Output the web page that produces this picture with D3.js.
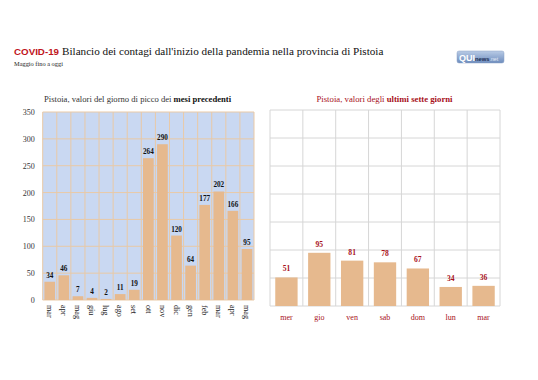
<!DOCTYPE html>
<html><head><meta charset="utf-8">
<script src="https://cdn.jsdelivr.net/npm/d3@7"></script>
<style>
body{margin:0;background:#fff;}
svg{display:block;}
</style></head>
<body>
<svg id="c" width="538" height="380"></svg>
<script>
const monthLabels = ["mar","apr","mag","giu","lug","ago","set","ott","nov","dic","gen","feb","mar","apr","mag"];
const monthValues = [34,46,7,4,2,11,19,264,290,120,64,177,202,166,95];
const dayLabels = ["mer","gio","ven","sab","dom","lun","mar"];
const dayValues = [51,95,81,78,67,34,36];
const yTicks = [0,50,100,150,200,250,300,350];

const svg = d3.select("#c");
const serif = "'Liberation Serif','DejaVu Serif',serif";
const barColor = "#e6b98e";
const red = "#a8101a";

// fit a text element's font size so its width matches a target width
function fitWidth(sel, target){
  const fs = +sel.attr("font-size");
  const w = sel.node().getComputedTextLength();
  if (w > 0) sel.attr("font-size", fs*target/w);
}

// Title
const cv = svg.append("text").attr("x",14).attr("y",55).text("COVID-19")
  .attr("font-family","'Liberation Sans',sans-serif")
  .attr("font-weight","bold").attr("font-size",10).attr("fill","#c0141c");
fitWidth(cv, 45);
const tt = svg.append("text").attr("x",62).attr("y",55)
  .text("Bilancio dei contagi dall'inizio della pandemia nella provincia di Pistoia")
  .attr("font-family",serif).attr("font-size",12).attr("fill","#111");
fitWidth(tt, 322);
const st = svg.append("text").attr("x",14).attr("y",66).text("Maggio fino a oggi")
  .attr("font-family",serif).attr("font-size",6.6).attr("fill","#222");
fitWidth(st, 49);

// Logo
const defs = svg.append("defs");
const g = defs.append("linearGradient").attr("id","lg").attr("x1",0).attr("y1",0).attr("x2",0).attr("y2",1);
g.append("stop").attr("offset","0%").attr("stop-color","#b9cbe6");
g.append("stop").attr("offset","100%").attr("stop-color","#6d8cbd");
svg.append("rect").attr("x",457).attr("y",51).attr("width",47).attr("height",12).attr("rx",2).attr("fill","url(#lg)").attr("stroke","#8aa0c4").attr("stroke-width",0.5);
const lt = svg.append("text").attr("x",459).attr("y",60.5).attr("font-family","'Liberation Sans',sans-serif");
lt.append("tspan").text("QUI").attr("font-weight","bold").attr("font-size",9).attr("fill","#fff");
lt.append("tspan").text("news").attr("font-weight","bold").attr("font-size",5.8).attr("fill","#1d2e55");
lt.append("tspan").text(".net").attr("font-size",5.2).attr("fill","#e8eef8");

// ---------- Left chart ----------
const L = {x0:42.7, x1:254, y0:300, y1:112};
const xL = d3.scaleBand().domain(d3.range(monthLabels.length)).range([L.x0,L.x1]).paddingInner(0.24).paddingOuter(0.12);
const yL = d3.scaleLinear().domain([0,350]).range([L.y0,L.y1]);
const gl = svg.append("g");
gl.append("rect").attr("x",L.x0).attr("y",L.y1).attr("width",L.x1-L.x0).attr("height",L.y0-L.y1).attr("fill","#c9d8f2");
const step = (L.x1-L.x0)/monthLabels.length;
gl.selectAll("line.v").data(d3.range(monthLabels.length+1)).join("line")
  .attr("x1",i=>L.x0+i*step).attr("x2",i=>L.x0+i*step).attr("y1",L.y1).attr("y2",L.y0)
  .attr("stroke","#e9c9a6").attr("stroke-width",1);
gl.selectAll("line.h").data(yTicks).join("line")
  .attr("x1",L.x0).attr("x2",L.x1).attr("y1",d=>yL(d)).attr("y2",d=>yL(d))
  .attr("stroke","#e9c9a6").attr("stroke-width",1);
gl.selectAll("rect.bar").data(monthValues).join("rect").attr("class","bar")
  .attr("x",(d,i)=>xL(i)).attr("width",xL.bandwidth())
  .attr("y",d=>yL(d)).attr("height",d=>yL(0)-yL(d)).attr("fill",barColor);
gl.selectAll("text.val").data(monthValues).join("text").attr("class","val")
  .attr("x",(d,i)=>xL(i)+xL.bandwidth()/2).attr("y",d=>yL(d)-4)
  .attr("text-anchor","middle").attr("font-family",serif).attr("font-weight","bold")
  .attr("font-size",7.2).attr("fill","#111").text(d=>d);
const yAx = d3.axisLeft(yL).tickValues(yTicks).tickSize(0).tickPadding(8);
const ya = gl.append("g").attr("transform",`translate(${L.x0},0)`).call(yAx);
ya.select(".domain").remove();
ya.selectAll("text").attr("font-family",serif).attr("font-size",8).attr("fill","#333");
gl.selectAll("text.xl").data(monthLabels).join("text").attr("class","xl")
  .attr("transform",(d,i)=>`translate(${xL(i)+xL.bandwidth()/2-2.8},${L.y0+5}) rotate(90)`)
  .attr("font-family",serif).attr("font-size",8.2).attr("fill","#222").text(d=>d);
const lt2 = svg.append("text").attr("x",44).attr("y",101.5).attr("font-family",serif).attr("font-size",8.2).attr("fill","#333");
lt2.append("tspan").text("Pistoia, valori del giorno di picco dei ");
lt2.append("tspan").text("mesi precedenti").attr("font-weight","bold").attr("fill","#111");
fitWidth(lt2, 187);

// ---------- Right chart ----------
const R = {x0:270, x1:500, y0:306, y1:110};
const xR = d3.scaleBand().domain(d3.range(dayLabels.length)).range([R.x0,R.x1]).paddingInner(0.32).paddingOuter(0.16);
const yR = d3.scaleLinear().domain([0,350]).range([R.y0,R.y1]);
const gr = svg.append("g");
const stepR = (R.x1-R.x0)/dayLabels.length;
gr.selectAll("line.v").data(d3.range(dayLabels.length+1)).join("line")
  .attr("x1",i=>R.x0+i*stepR).attr("x2",i=>R.x0+i*stepR).attr("y1",R.y1).attr("y2",R.y0)
  .attr("stroke","#d6d6d6").attr("stroke-width",1);
gr.selectAll("line.h").data(yTicks).join("line")
  .attr("x1",R.x0).attr("x2",R.x1).attr("y1",d=>yR(d)).attr("y2",d=>yR(d))
  .attr("stroke","#d6d6d6").attr("stroke-width",1);
gr.selectAll("rect.bar").data(dayValues).join("rect").attr("class","bar")
  .attr("x",(d,i)=>xR(i)).attr("width",xR.bandwidth())
  .attr("y",d=>yR(d)).attr("height",d=>yR(0)-yR(d)).attr("fill",barColor);
gr.selectAll("text.val").data(dayValues).join("text").attr("class","val")
  .attr("x",(d,i)=>xR(i)+xR.bandwidth()/2).attr("y",d=>yR(d)-6)
  .attr("text-anchor","middle").attr("font-family",serif).attr("font-weight","bold")
  .attr("font-size",7.6).attr("fill",red).text(d=>d);
gr.selectAll("text.xl").data(dayLabels).join("text").attr("class","xl")
  .attr("x",(d,i)=>xR(i)+xR.bandwidth()/2).attr("y",319.5).attr("text-anchor","middle")
  .attr("font-family",serif).attr("font-size",8).attr("fill",red).text(d=>d);
const rt = svg.append("text").attr("x",384.5).attr("y",101.5).attr("text-anchor","middle").attr("font-family",serif).attr("font-size",8.2).attr("fill",red);
rt.append("tspan").text("Pistoia, valori degli ");
rt.append("tspan").text("ultimi sette giorni").attr("font-weight","bold");
fitWidth(rt, 136);
</script>
</body></html>
